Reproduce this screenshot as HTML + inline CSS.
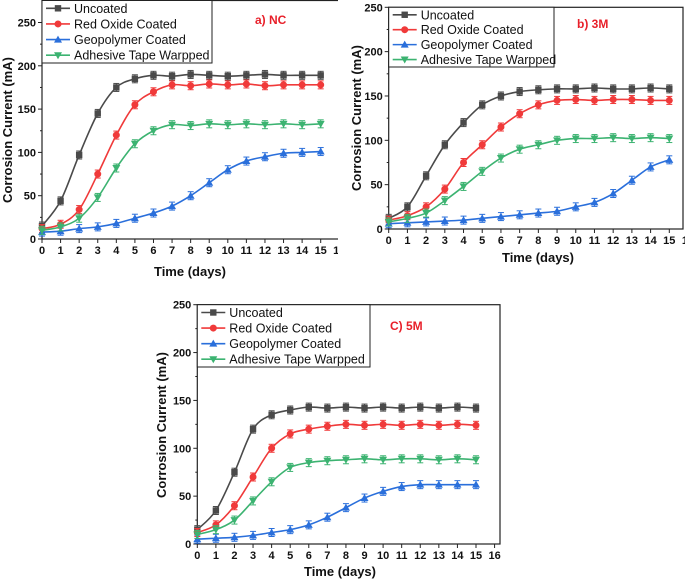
<!DOCTYPE html>
<html><head><meta charset="utf-8"><style>
body{margin:0;background:#fff}
svg{display:block;font-family:"Liberation Sans",sans-serif}
</style></head><body>
<svg id="chart" width="685" height="581" viewBox="0 0 685 581" xmlns="http://www.w3.org/2000/svg">
<defs><clipPath id="clipA"><rect x="0" y="0" width="338" height="581"/></clipPath></defs>
</svg>
<script>
const days=[0,1,2,3,4,5,6,7,8,9,10,11,12,13,14,15];
const seriesNames=["Uncoated","Red Oxide Coated","Geopolymer Coated","Adhesive Tape Warpped"];
const yTicks=[0,50,100,150,200,250];
const xTicks=[0,1,2,3,4,5,6,7,8,9,10,11,12,13,14,15,16];
const ncUncoated=[15,44,97,145,175,185,189,188,190,189,188,189,190,189,189,189];
const ncRed=[12,17,34,75,120,155,170,178,177,179,178,179,177,178,178,178];
const ncGeo=[8,9,12,14,18,24,30,38,50,65,80,90,95,99,100,101];
const ncTape=[10,14,24,48,82,110,125,132,131,133,132,133,132,133,132,133];
const m3Uncoated=[12,25,60,95,120,140,150,155,157,158,158,159,158,158,159,158];
const m3Red=[10,15,25,45,75,95,115,130,140,145,146,145,146,146,145,145];
const m3Geo=[6,7,8,9,10,12,14,16,18,20,25,30,40,55,70,78];
const m3Tape=[8,12,18,32,48,65,80,90,95,100,102,102,103,102,103,102];
const m5Uncoated=[15,35,75,120,135,140,143,142,143,142,143,142,143,142,143,142];
const m5Red=[12,20,40,70,100,115,120,123,125,124,125,124,125,124,125,124];
const m5Geo=[5,6,7,9,12,15,20,28,38,48,55,60,62,62,62,62];
const m5Tape=[10,15,25,45,65,80,85,87,88,89,88,89,89,88,89,88];

const colors=["#4a4a4a","#f03a3a","#2a6fdb","#3cb371"];
const NS="http://www.w3.org/2000/svg";
const svg=document.getElementById('chart');
function mk(tag,attrs,parent){const e=document.createElementNS(NS,tag);for(const k in attrs)e.setAttribute(k,attrs[k]);parent.appendChild(e);return e;}

const panels=[
 {key:"nc",title:"a) NC",tx:255,ty:24,x0:42,x15:320.7,y0:239,y250:22.5,top:0.5,right:345,clip:true,
  series:[ncUncoated,ncRed,ncGeo,ncTape],leg:[42,0.5,212,63],xt:[190,276],yt:[8,130]},
 {key:"3m",title:"b) 3M",tx:577,ty:28,x0:388.7,x15:669.3,y0:229,y250:7.3,top:7.3,right:683,
  series:[m3Uncoated,m3Red,m3Geo,m3Tape],leg:[388.7,7.3,554,67],xt:[538,262],yt:[357,118]},
 {key:"5m",title:"C) 5M",tx:390,ty:330,x0:197.3,x15:476,y0:544,y250:304.7,top:304.7,right:500,
  series:[m5Uncoated,m5Red,m5Geo,m5Tape],leg:[197.3,304.7,370,367],xt:[340,576],yt:[162,425]}
];

function spline(pts){let d=`M${pts[0][0]},${pts[0][1]}`;for(let i=0;i<pts.length-1;i++){const p0=pts[Math.max(i-1,0)],p1=pts[i],p2=pts[i+1],p3=pts[Math.min(i+2,pts.length-1)];const c1=[p1[0]+(p2[0]-p0[0])/6,p1[1]+(p2[1]-p0[1])/6],c2=[p2[0]-(p3[0]-p1[0])/6,p2[1]-(p3[1]-p1[1])/6];d+=` C${c1[0]},${c1[1]} ${c2[0]},${c2[1]} ${p2[0]},${p2[1]}`;}return d;}
function marker(type,x,y,c,g){
 if(type===0){const m=mk('rect',{x:x-3.2,y:y-3.2,width:6.4,height:6.4,fill:c},g);}
 else if(type===1){const m=mk('circle',{cx:x,cy:y,r:3.5,fill:c},g);}
 else if(type===2){const m=mk('polygon',{points:`${x},${y-4} ${x-4},${y+3} ${x+4},${y+3}`,fill:c},g);}
 else {const m=mk('polygon',{points:`${x},${y+4} ${x-4},${y-3} ${x+4},${y-3}`,fill:c},g);}
}
panels.forEach(p=>{
 const g=mk('g',{},svg);
 
 
 if(p.clip)g.setAttribute('clip-path','url(#clipA)');
 const sx=v=>p.x0+(p.x15-p.x0)*v/15;
 const sy=v=>p.y0-(p.y0-p.y250)*v/250;
 const frame=mk('rect',{x:p.x0,y:p.top,width:p.right-p.x0,height:p.y0-p.top,fill:'none',stroke:'#222','stroke-width':1.2},g);
 
 
 yTicks.forEach(v=>{
  mk('line',{x1:p.x0-4,x2:p.x0,y1:sy(v),y2:sy(v),stroke:'#222'},g);
  if(v<250)mk('line',{x1:p.x0-2,x2:p.x0,y1:sy(v+25),y2:sy(v+25),stroke:'#222'},g);
  const t=mk('text',{x:p.x0-6,y:sy(v)+4,'text-anchor':'end','font-size':11,'font-weight':'bold',fill:'#111'},g);
  t.textContent=v;
  
  
 });
 xTicks.forEach(v=>{
  mk('line',{x1:sx(v),x2:sx(v),y1:p.y0,y2:p.y0+4,stroke:'#222'},g);
  const t=mk('text',{x:sx(v),y:p.y0+15,'text-anchor':'middle','font-size':11,'font-weight':'bold',fill:'#111'},g);
  t.textContent=v;
  
  
 });
 p.series.forEach((vals,si)=>{
  const sg=mk('g',{},g);
  
  
  const pts=vals.map((v,i)=>[sx(days[i]),sy(v)]);
  const path=mk('path',{d:spline(pts),fill:'none',stroke:colors[si],'stroke-width':1.6},sg);
  
  
  pts.forEach(([x,y])=>{
   mk('line',{x1:x,x2:x,y1:y-4,y2:y+4,stroke:colors[si],'stroke-width':1},sg);
   mk('line',{x1:x-3,x2:x+3,y1:y-4,y2:y-4,stroke:colors[si],'stroke-width':1},sg);
   mk('line',{x1:x-3,x2:x+3,y1:y+4,y2:y+4,stroke:colors[si],'stroke-width':1},sg);
   marker(si,x,y,colors[si],sg);
  });
 });
 const [lx0,ly0,lx1,ly1]=p.leg;
 const lg=mk('g',{},g);
 
 
 mk('rect',{x:lx0,y:ly0,width:lx1-lx0,height:ly1-ly0,fill:'#fff',stroke:'#222','stroke-width':1},lg);
 const rh=(ly1-ly0)/4;
 seriesNames.forEach((n,i)=>{
  const yy=ly0+rh*(i+0.5);
  mk('line',{x1:lx0+4,x2:lx0+28,y1:yy,y2:yy,stroke:colors[i],'stroke-width':1.6},lg);
  marker(i,lx0+16,yy,colors[i],lg);
  const t=mk('text',{x:lx0+32,y:yy+4.5,'font-size':12.5,fill:'#111'},lg);
  t.textContent=n;
  
  
 });
 const tt=mk('text',{x:p.tx,y:p.ty,'font-size':12,'font-weight':'bold',fill:'#e8202a'},g);
 tt.textContent=p.title;
 
 
 const xt=mk('text',{x:p.xt[0],y:p.xt[1],'text-anchor':'middle','font-size':13,'font-weight':'bold',fill:'#111'},g);
 xt.textContent="Time (days)";
 
 
 const yt=mk('text',{x:p.yt[0],y:p.yt[1],'text-anchor':'middle','font-size':13,'font-weight':'bold',fill:'#111',transform:`rotate(-90 ${p.yt[0]} ${p.yt[1]})`,dy:4},g);
 yt.textContent="Corrosion Current (mA)";
 
 
});
</script>
</body></html>
